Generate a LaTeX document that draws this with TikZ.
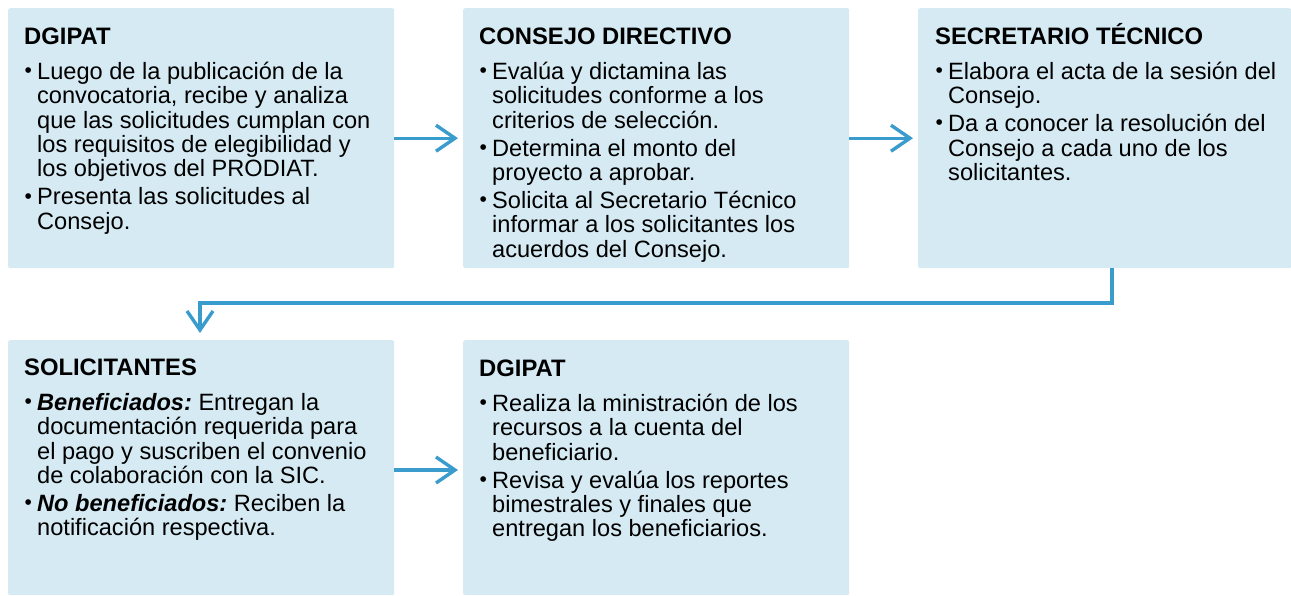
\documentclass[tikz,border=0pt]{standalone}
\usepackage{fontspec}
\setmainfont{Liberation Sans}
\usetikzlibrary{arrows.meta}
\frenchspacing
\definecolor{boxfill}{HTML}{D5EAF3}
\definecolor{flow}{HTML}{3A9CCD}
\newcommand\itm[1]{\par\vspace{3.6pt}\hangindent=13pt\hangafter=1\noindent\makebox[13pt][l]{\hspace{0.5pt}\raisebox{1.8pt}{\fontsize{21}{21}\selectfont •}}#1\par}
\newcommand\bi[1]{{\bfseries\itshape #1}}
\newcommand\boxtext[2]{\parbox[t]{355pt}{\frenchspacing\lineskiplimit=-50pt{\fontsize{23.8}{24}\selectfont\bfseries #1\par}\vspace{7.3pt}\fontsize{23.6}{24.4}\selectfont #2}}
\begin{document}
\begin{tikzpicture}[x=1pt,y=-1pt,
  box/.style={fill=boxfill, draw=none, rounded corners=2pt, anchor=north west, inner sep=0pt},
  txt/.style={anchor=base west, inner sep=0pt},
  flowarrow/.style={draw=flow, line width=3.4pt, -{Straight Barb[length=19pt,width=26pt]}}]
\useasboundingbox (0,0) rectangle (1291,595);
\node[box, minimum width=386pt, minimum height=260pt] (b1) at (8,8) {};
\node[box, minimum width=386pt, minimum height=260pt] (b2) at (463,8) {};
\node[box, minimum width=373pt, minimum height=260pt] (b3) at (918,8) {};
\node[box, minimum width=386pt, minimum height=255pt] (b4) at (8,340) {};
\node[box, minimum width=386pt, minimum height=255pt] (b5) at (463,340) {};

\node[txt] (t1) at (24,44) {\boxtext{DGIPAT}{%
\itm{Luego de la publicación de la\\convocatoria, recibe y analiza\\que las solicitudes cumplan con\\los requisitos de elegibilidad y\\los objetivos del PRODIAT.}%
\itm{Presenta las solicitudes al\\Consejo.}}};
\node[txt] (t2) at (479,44) {\boxtext{CONSEJO DIRECTIVO}{%
\itm{Evalúa y dictamina las\\solicitudes conforme a los\\criterios de selección.}%
\itm{Determina el monto del\\proyecto a aprobar.}%
\itm{Solicita al Secretario Técnico\\informar a los solicitantes los\\acuerdos del Consejo.}}};
\node[txt] (t3) at (935,44) {\boxtext{SECRETARIO TÉCNICO}{%
\itm{Elabora el acta de la sesión del\\Consejo.}%
\itm{Da a conocer la resolución del\\Consejo a cada uno de los\\solicitantes.}}};
\node[txt] (t4) at (24,375) {\boxtext{SOLICITANTES}{%
\itm{\bi{Beneficiados:} Entregan la\\documentación requerida para\\el pago y suscriben el convenio\\de colaboración con la SIC.}%
\itm{\bi{No beneficiados:} Reciben la\\notificación respectiva.}}};
\node[txt] (t5) at (479,376) {\boxtext{DGIPAT}{%
\itm{Realiza la ministración de los\\recursos a la cuenta del\\beneficiario.}%
\itm{Revisa y evalúa los reportes\\bimestrales y finales que\\entregan los beneficiarios.}}};

\draw[flowarrow, shorten >=5pt] (b1.east) -- (b2.west);
\draw[flowarrow, shorten >=5pt] (b2.east) -- (b3.west);
\coordinate (e1) at (1112,303);
\coordinate (e2) at (200,303);
\draw[flowarrow, shorten >=7pt] (b3.south -| e1) -- (e1) -- (e2) -- (e2 |- b4.north);
\coordinate (a4) at (394,470);
\draw[flowarrow, shorten >=5pt] (a4) -- (a4 -| b5.west);
\end{tikzpicture}
\end{document}
